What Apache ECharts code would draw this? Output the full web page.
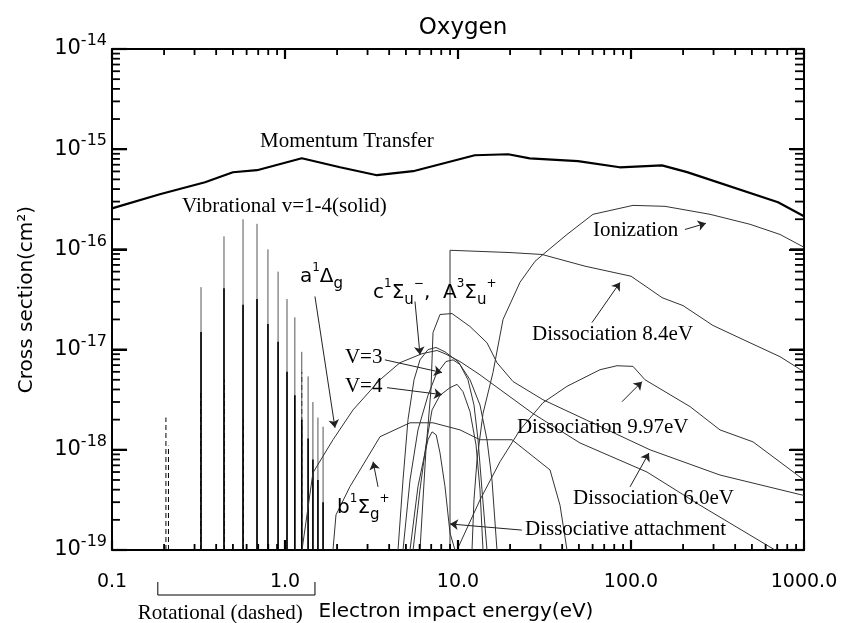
<!DOCTYPE html>
<html><head><meta charset="utf-8">
<script src="https://cdn.jsdelivr.net/npm/echarts@6/dist/echarts.min.js"></script>
<style>html,body{margin:0;padding:0;background:#fff}#c{width:844px;height:623px}</style>
</head><body><div id="c"></div>
<script>
// ---------- tick labels ----------
const xTickLabels = ['0.1', '1.0', '10.0', '100.0', '1000.0'];
const yTickExponents = ['-19', '-18', '-17', '-16', '-15', '-14'];

// ---------- curves (energy eV, cross section cm^2) ----------
const momentumE = [0.1, 0.189, 0.345, 0.50, 0.689, 1.25, 2.08, 3.40, 5.5, 12.5, 19.5, 26, 49.4, 86, 151, 211, 708, 1000];
const momentumS = [2.57e-16, 3.55e-16, 4.68e-16, 5.89e-16, 6.17e-16, 8.13e-16, 6.61e-16, 5.5e-16, 6.03e-16, 8.7e-16, 8.9e-16, 8.1e-16, 7.6e-16, 6.6e-16, 6.9e-16, 5.9e-16, 2.95e-16, 2.14e-16];

const ionizE = [12.05, 12.37, 12.88, 13.95, 15.93, 18.21, 22.83, 27.87, 30.99, 42.67, 60.3, 102.7, 157.2, 286.2, 487.5, 726.7, 1000];
const ionizS = [1e-19, 3.16e-19, 7.9e-19, 2.3e-18, 5.9e-18, 2.0e-17, 4.7e-17, 7.6e-17, 8.9e-17, 1.41e-16, 2.24e-16, 2.75e-16, 2.69e-16, 2.24e-16, 1.78e-16, 1.41e-16, 1.05e-16];

const diss84E = [8.99, 8.99, 19.98, 30.59, 54.22, 100, 128.8, 151.1, 199.8, 297.8, 487.5, 726.7, 1000];
const diss84S = [1e-19, 9.8e-17, 9.3e-17, 8.9e-17, 6.8e-17, 5.4e-17, 4.0e-17, 3.3e-17, 2.75e-17, 1.74e-17, 1.17e-17, 8.5e-18, 6.0e-18];

const diss997E = [9.87, 13.4, 17.49, 22.83, 30.99, 42.67, 66.21, 83.0, 102.7, 120.5, 219.3, 326.9, 507.3, 1000];
const diss997S = [1e-19, 3.16e-19, 7.6e-19, 1.58e-18, 2.95e-18, 4.3e-18, 6.3e-18, 6.9e-18, 6.8e-18, 5.0e-18, 2.7e-18, 1.58e-18, 1.2e-18, 5.0e-19];

const diss60E = [6.03, 6.53, 6.98, 7.17, 7.87, 9.23, 11.73, 14.71, 16.8, 20.8, 30.99, 128.8, 326.9, 1000];
const diss60S = [1e-19, 1.0e-18, 4.0e-18, 1.48e-17, 2.24e-17, 2.29e-17, 1.70e-17, 1.17e-17, 7.4e-18, 4.8e-18, 3.16e-18, 1.0e-18, 5.6e-19, 3.5e-19];

const a1E = [1.254, 1.451, 1.894, 2.473, 3.541, 4.62, 6.19, 7.56, 8.41, 10.27, 13.4, 17.49, 27.13, 50.74, 123.7, 250.5, 679.9];
const a1S = [1e-19, 5.9e-19, 1.26e-18, 2.5e-18, 5.0e-18, 7.4e-18, 9.1e-18, 9.8e-18, 9.1e-18, 7.6e-18, 5.6e-18, 4.0e-18, 2.3e-18, 1.17e-18, 6.0e-19, 2.8e-19, 1e-19];

const b1E = [1.894, 1.971, 2.376, 3.541, 5.28, 7.17, 10.27, 13.4, 20.52, 34.03, 38.87, 42.67];
const b1S = [1e-19, 2.24e-19, 4.3e-19, 1.35e-18, 1.86e-18, 1.86e-18, 1.58e-18, 1.26e-18, 1.26e-18, 6.3e-19, 2.8e-19, 1e-19];

const attachE = [5.28, 5.87, 6.44, 6.71, 7.08, 7.48, 7.87, 8.41, 8.99, 9.61];
const attachS = [1e-19, 4.3e-19, 9.3e-19, 1.26e-18, 1.51e-18, 1.41e-18, 9.3e-19, 4.3e-19, 1.48e-19, 1e-19];

const cAE = [4.50, 4.81, 5.14, 5.57, 6.03, 6.71, 7.46, 8.41, 10.0, 11.73, 13.40, 14.71, 15.72, 16.80];
const cAS = [1e-19, 5.0e-19, 2.0e-18, 5.0e-18, 7.9e-18, 1.0e-17, 1.05e-17, 9.5e-18, 7.6e-18, 5.0e-18, 2.8e-18, 1.26e-18, 5.0e-19, 1e-19];

const v3E = [4.81, 5.28, 5.87, 6.71, 7.46, 8.52, 9.36, 10.27, 11.42, 12.37, 13.05, 13.76, 14.71];
const v3S = [1e-19, 5e-19, 1.58e-18, 3.5e-18, 5.6e-18, 7.6e-18, 7.9e-18, 7.1e-18, 5e-18, 2.8e-18, 1.26e-18, 4e-19, 1e-19];

const v4E = [5.50, 6.03, 6.53, 7.08, 7.87, 8.99, 9.87, 10.69, 11.73, 12.71, 13.40, 13.95];
const v4S = [1e-19, 4e-19, 1.12e-18, 2.5e-18, 3.5e-18, 4.17e-18, 4.5e-18, 3.8e-18, 2.4e-18, 1.12e-18, 4e-19, 1e-19];

// ---------- resonance spikes ----------
const vibE = [0.327, 0.444, 0.572, 0.689, 0.797, 0.912, 1.027, 1.14, 1.25, 1.36, 1.45, 1.55, 1.66];
const vib1S = [4.2e-17, 1.35e-16, 2.0e-16, 1.8e-16, 1.0e-16, 6.0e-17, 3.2e-17, 2.1e-17, 9.5e-18, 5.4e-18, 3.0e-18, 2.1e-18, 1.7e-18];
const vib2S = [1.5e-17, 4.1e-17, 2.8e-17, 3.2e-17, 1.8e-17, 1.2e-17, 6.0e-18, 3.5e-18, 2.0e-18, 1.3e-18, 8.0e-19, 5.0e-19, 3.0e-19];
const rotE = [0.205, 0.212, 0.325, 0.447, 0.575, 1.25];
const rotS = [2.1e-18, 1.1e-18, 3.7e-18, 5.0e-18, 2.0e-18, 6.0e-18];

// ---------- annotation arrows (data coordinates) ----------
const arrowFromE = [205, 59.5, 88.7, 98.7, 23.4, 3.78, 3.89, 5.64, 1.49, 3.45];
const arrowFromS = [1.58e-16, 1.86e-17, 3.02e-18, 4.27e-19, 1.58e-19, 7.9e-18, 4.17e-18, 3.02e-17, 3.39e-17, 4.27e-19];
const arrowToE = [271, 86.4, 115.8, 127, 8.99, 8.08, 8.08, 6.03, 1.945, 3.23];
const arrowToS = [1.82e-16, 4.68e-17, 4.79e-18, 9.3e-19, 1.82e-19, 5.9e-18, 3.55e-18, 8.9e-18, 1.66e-18, 7.6e-19];

// ---------- annotation texts ----------
const labelTexts = ['Momentum Transfer', 'Vibrational v=1-4(solid)', 'Ionization', 'Dissociation 8.4eV', 'Dissociation 9.97eV', 'Dissociation 6.0eV', 'Dissociative attachment', 'V=3', 'V=4'];
const labelE = [0.717, 0.254, 60.3, 26.8, 21.9, 46.2, 24.4, 2.22, 2.22];
const labelS = [1.2e-15, 2.69e-16, 1.55e-16, 1.41e-17, 1.66e-18, 3.24e-19, 1.62e-19, 8.3e-18, 4.27e-18];
const stateTexts = ['{n|a}{p|1}{n|Δ}{b|g}', '{n|c}{p|1}{n|Σ}{b|u}{p|−}{n|,  A}{p|3}{n|Σ}{b|u}{p|+}', '{n|b}{p|1}{n|Σ}{b|g}{p|+}'];
const stateE = [1.22, 3.23, 2.0];
const stateS = [5.37e-17, 3.72e-17, 2.63e-19];
const rotBracketE = [0.184, 1.49];
const rotTextE = 0.141;

const X_MIN = 0.1, X_MAX = 1000, Y_MIN = 1e-19, Y_MAX = 1e-14;

const zip = (a, b) => a.map((v, i) => [v, b[i]]);

// tick values of the log axes (major = decades, minor = 2..9 per decade)
const xMajor = [], xMinor = [], yMajor = [], yMinor = [];
for (let d = -1; d <= 3; d++) xMajor.push(Math.pow(10, d));
for (let d = -1; d <= 2; d++) for (let m = 2; m <= 9; m++) xMinor.push(m * Math.pow(10, d));
for (let d = -19; d <= -14; d++) yMajor.push(Math.pow(10, d));
for (let d = -19; d <= -15; d++) for (let m = 2; m <= 9; m++) yMinor.push(m * Math.pow(10, d));

// tick segments in data space [x1, y1, x2, y2] (length given as a fraction of a decade)
const tickSegsMajor = [], tickSegsMinor = [];
xMajor.forEach(v => { tickSegsMajor.push([v, Y_MIN, v, Y_MIN * Math.pow(10, 0.10)], [v, Y_MAX, v, Y_MAX / Math.pow(10, 0.10)]); });
xMinor.forEach(v => { tickSegsMinor.push([v, Y_MIN, v, Y_MIN * Math.pow(10, 0.06)], [v, Y_MAX, v, Y_MAX / Math.pow(10, 0.06)]); });
yMajor.forEach(v => { tickSegsMajor.push([X_MIN, v, X_MIN * Math.pow(10, 0.087), v], [X_MAX, v, X_MAX / Math.pow(10, 0.081), v]); });
yMinor.forEach(v => { tickSegsMinor.push([X_MIN, v, X_MIN * Math.pow(10, 0.046), v], [X_MAX, v, X_MAX / Math.pow(10, 0.052), v]); });

const chart = echarts.init(document.getElementById('c'), null, {renderer: 'canvas'});

function curve(name, E, S, color, width) {
  return {
    type: 'line', name, data: zip(E, S), showSymbol: false, symbol: 'none',
    lineStyle: {color, width}, clip: true, silent: true, z: 3, animation: false
  };
}
function spikes(name, E, S, color, width, dashed) {
  return {
    type: 'custom', name, silent: true, clip: true, z: 2, animation: false,
    data: zip(E, S), encode: {x: 0, y: 1},
    renderItem(params, api) {
      const top = api.coord([api.value(0), api.value(1)]);
      const base = api.coord([api.value(0), Y_MIN]);
      return {type: 'line', shape: {x1: base[0], y1: base[1], x2: top[0], y2: top[1]},
        style: {stroke: color, lineWidth: width, lineDash: dashed ? [5, 3] : null}};
    }
  };
}
// generic segment series (same mechanism as the spikes, which render)
function segments(name, segs, width) {
  return {
    type: 'custom', name, silent: true, clip: false, z: 10, animation: false,
    data: segs, encode: {x: [0, 2], y: [1, 3]},
    renderItem(params, api) {
      const a = api.coord([api.value(0), api.value(1)]);
      const b = api.coord([api.value(2), api.value(3)]);
      return {type: 'line', shape: {x1: a[0], y1: a[1], x2: b[0], y2: b[1]},
        style: {stroke: '#000', lineWidth: width}};
    }
  };
}

const greekRich = {
  n: {fontFamily: 'DejaVu Sans', fontSize: 20, fill: '#000', lineHeight: 30, verticalAlign: 'middle'},
  p: {fontFamily: 'DejaVu Sans', fontSize: 12, fill: '#000', lineHeight: 16, verticalAlign: 'top'},
  b: {fontFamily: 'DejaVu Sans', fontSize: 15, fill: '#000', lineHeight: 16, verticalAlign: 'bottom'}
};

// annotation texts, axis titles and the rotational bracket
const decorSeries = {
  type: 'custom', name: 'decor', silent: true, clip: false, z: 20, animation: false,
  data: [[1, 1e-17]], encode: {x: 0, y: 1},
  renderItem(params, api) {
    const c = (e, s) => api.coord([e, s]);
    const kids = [];
    labelTexts.forEach((t, i) => { const p = c(labelE[i], labelS[i]);
      kids.push({type: 'text', x: p[0], y: p[1], style: {text: t, fontFamily: 'Liberation Serif', fontSize: 21, fill: '#000', align: 'left', verticalAlign: 'middle'}}); });
    stateTexts.forEach((t, i) => { const p = c(stateE[i], stateS[i]);
      kids.push({type: 'text', x: p[0], y: p[1], style: {text: t, rich: greekRich, align: 'left', verticalAlign: 'middle'}}); });
    const pl = c(X_MIN, Y_MIN), pr = c(X_MAX, Y_MAX);
    kids.push({type: 'text', x: (pl[0] + pr[0]) / 2 - 2, y: pl[1] + 62,
      style: {text: 'Electron impact energy(eV)', fontFamily: 'DejaVu Sans', fontSize: 20, fill: '#000', align: 'center', verticalAlign: 'middle'}});
    kids.push({type: 'text', x: pl[0] - 85, y: (pl[1] + pr[1]) / 2, rotation: Math.PI / 2,
      style: {text: 'Cross section(cm²)', fontFamily: 'DejaVu Sans', fontSize: 20, fill: '#000', align: 'center', verticalAlign: 'middle'}});
    const bx1 = c(rotBracketE[0], Y_MIN)[0], bx2 = c(rotBracketE[1], Y_MIN)[0], by = pl[1];
    kids.push({type: 'polyline', shape: {points: [[bx1, by + 32], [bx1, by + 45], [bx2, by + 45], [bx2, by + 32]]},
      style: {stroke: '#000', lineWidth: 1, fill: null}});
    kids.push({type: 'text', x: c(rotTextE, Y_MIN)[0], y: by + 63,
      style: {text: 'Rotational (dashed)', fontFamily: 'Liberation Serif', fontSize: 21, fill: '#000', align: 'left', verticalAlign: 'middle'}});
    return {type: 'group', children: kids};
  }
};

const axisCommonX = {
  type: 'log', logBase: 10, min: X_MIN, max: X_MAX, splitNumber: 4,
  axisLine: {show: true, onZero: false, lineStyle: {color: '#000', width: 2}},
  axisTick: {show: true, inside: true, length: 10, lineStyle: {color: '#000', width: 2}},
  splitLine: {show: false}, minorTick: {show: false}, minorSplitLine: {show: false}
};
const axisCommonY = {
  type: 'log', logBase: 10, min: Y_MIN, max: Y_MAX, splitNumber: 5,
  axisLine: {show: true, onZero: false, lineStyle: {color: '#000', width: 2}},
  axisTick: {show: true, inside: true, length: 15, lineStyle: {color: '#000', width: 2}},
  splitLine: {show: false}, minorTick: {show: false}, minorSplitLine: {show: false}
};

const option = {
  animation: false,
  backgroundColor: '#fff',
  title: {
    text: 'Oxygen', left: 458, top: 12, textAlign: 'center',
    textStyle: {fontFamily: 'DejaVu Sans', fontSize: 23, fontWeight: 'normal', color: '#000'}
  },
  grid: {left: 112, right: 40, top: 49, bottom: 73, containLabel: false},
  xAxis: [
    Object.assign({}, axisCommonX, {position: 'bottom',
      axisLabel: {show: true, margin: 23, showMinLabel: true, showMaxLabel: true,
        fontFamily: 'DejaVu Sans', fontSize: 19, color: '#000',
        formatter: v => xTickLabels[Math.round(Math.log10(v)) + 1]}}),
    Object.assign({}, axisCommonX, {position: 'top', axisLabel: {show: false}})
  ],
  yAxis: [
    Object.assign({}, axisCommonY, {position: 'left',
      axisLabel: {show: true, margin: 5, showMinLabel: true, showMaxLabel: true,
        formatter: v => '{b|10}{e|' + yTickExponents[Math.round(Math.log10(v)) + 19] + '}',
        rich: {
          b: {fontFamily: 'DejaVu Sans', fontSize: 21, color: '#000', lineHeight: 32, verticalAlign: 'middle'},
          e: {fontFamily: 'DejaVu Sans', fontSize: 16, color: '#000', lineHeight: 20, verticalAlign: 'top'}
        }}}),
    Object.assign({}, axisCommonY, {position: 'right', axisLabel: {show: false}})
  ],
  series: [
    spikes('rotational', rotE, rotS, '#000', 1, true),
    spikes('vib1', vibE, vib1S, '#555', 1, false),
    spikes('vib2', vibE, vib2S, '#000', 1.6, false),
    curve('Momentum Transfer', momentumE, momentumS, '#000', 2.2),
    curve('Ionization', ionizE, ionizS, '#333', 1),
    curve('Dissociation 8.4eV', diss84E, diss84S, '#333', 1),
    curve('Dissociation 9.97eV', diss997E, diss997S, '#333', 1),
    curve('Dissociation 6.0eV', diss60E, diss60S, '#333', 1),
    curve('a1Dg', a1E, a1S, '#333', 1),
    curve('b1Sg+', b1E, b1S, '#333', 1),
    curve('Dissociative attachment', attachE, attachS, '#333', 1),
    curve('c1Su-, A3Su+', cAE, cAS, '#333', 1),
    curve('V=3', v3E, v3S, '#333', 1),
    curve('V=4', v4E, v4S, '#333', 1),
    segments('major ticks', tickSegsMajor, 2.2),
    segments('minor ticks', tickSegsMinor, 1.8),
    {
      type: 'line', name: 'arrows', data: [], silent: true, animation: false,
      markLine: {
        silent: true, animation: false, symbol: ['none', 'arrow'], symbolSize: 8,
        label: {show: false}, lineStyle: {color: '#222', width: 1, type: 'solid'},
        emphasis: {disabled: true},
        data: arrowFromE.map((e, i) => [{coord: [e, arrowFromS[i]]}, {coord: [arrowToE[i], arrowToS[i]]}])
      }
    },
    decorSeries
  ]
};
chart.setOption(option);
</script>
</body></html>
